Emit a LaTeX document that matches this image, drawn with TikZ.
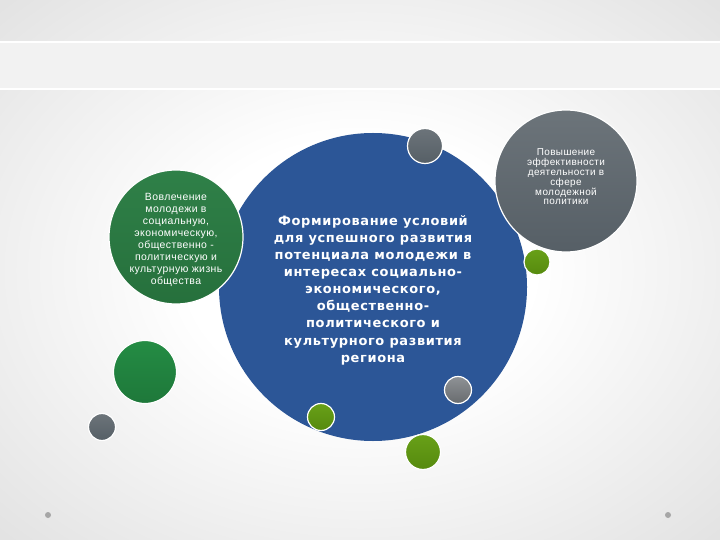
\documentclass[tikz,border=0pt]{standalone}
\usepackage{fontspec}
\setmainfont{Liberation Sans}
\newfontfamily\djv{DejaVu Sans}
\definecolor{bigblue}{RGB}{44,86,151}
\definecolor{dkgreen}{RGB}{47,128,72}
\definecolor{dkgreenB}{RGB}{38,112,60}
\definecolor{medgreen}{RGB}{36,140,68}
\definecolor{medgreenB}{RGB}{30,120,58}
\definecolor{olive}{RGB}{104,160,24}
\definecolor{oliveB}{RGB}{86,138,14}
\definecolor{slate}{RGB}{108,116,122}
\definecolor{slateB}{RGB}{86,95,102}
\definecolor{ltgray}{RGB}{130,134,138}
\definecolor{band}{RGB}{242,242,242}
\pgfdeclareradialshading{bgshade}{\pgfpoint{0bp}{0bp}}{color(0bp)=(white); color(12bp)=(white); color(35bp)=(black!11); color(50bp)=(black!17); color(100bp)=(black!17)}
\tikzset{
  disc/.style={circle, inner sep=0pt, draw=white, line width=1.2bp},
  blueball/.style={disc, fill=bigblue, draw=none},
  greenball/.style={disc, top color=dkgreen, bottom color=dkgreenB},
  medball/.style={disc, top color=medgreen, bottom color=medgreenB},
  oliveball/.style={disc, top color=olive, bottom color=oliveB},
  slateball/.style={disc, top color=slate, bottom color=slateB},
  greyball/.style={disc, top color=ltgray!90!white, bottom color=ltgray!80!black},
  dot/.style={circle, inner sep=0pt, minimum size=6bp, fill=gray!70},
  bluetext/.style={text=white, align=center, font=\djv\bfseries\addfontfeature{LetterSpace=5}\fontsize{13}{17.2}\selectfont},
  greentext/.style={text=white, align=center, font=\addfontfeature{LetterSpace=4}\fontsize{10.5}{12}\selectfont},
  slatetext/.style={text=white, align=center, font=\addfontfeature{LetterSpace=4}\fontsize{10}{9.8}\selectfont}
}
\begin{document}
\begin{tikzpicture}[x=1bp,y=-1bp]
\useasboundingbox (0,0) rectangle (720,540);
\shade[shading=bgshade] (0,0) rectangle (720,540);
\fill[white] (0,41) rectangle (720,90);
\fill[band] (0,43) rectangle (720,88);

\node[blueball, minimum size=308bp] (blue) at (373,287) {};
\node[bluetext] (bluet) at (373,290) {Формирование условий\\для успешного развития\\потенциала молодежи в\\интересах социально-\\экономического,\\общественно-\\политического и\\культурного развития\\региона};

\node[greenball, minimum size=134bp] (green) at (176,237) {};
\node[greentext] (greent) at (176,240) {Вовлечение\\молодежи в\\социальную,\\экономическую,\\общественно -\\политическую и\\культурную жизнь\\общества};

\node[slateball, minimum size=142bp] (slate) at (566,181) {};
\node[slatetext] (slatet) at (566,177) {Повышение\\эффективности\\деятельности в\\сфере\\молодежной\\политики};

\node[slateball, minimum size=35bp] (s1) at (425,146) {};
\node[oliveball, minimum size=26bp] (o1) at (537,262) {};
\node[medball, minimum size=63bp] (m1) at (145,372) {};
\node[slateball, minimum size=27bp] (s2) at (102,427) {};
\node[greyball, minimum size=27bp] (s3) at (458,390) {};
\node[oliveball, minimum size=27bp] (o2) at (321,417) {};
\node[oliveball, minimum size=35bp] (o3) at (423,452) {};

\node[dot] (d1) at (48,515) {};
\node[dot] (d2) at (668,515) {};
\end{tikzpicture}
\end{document}
